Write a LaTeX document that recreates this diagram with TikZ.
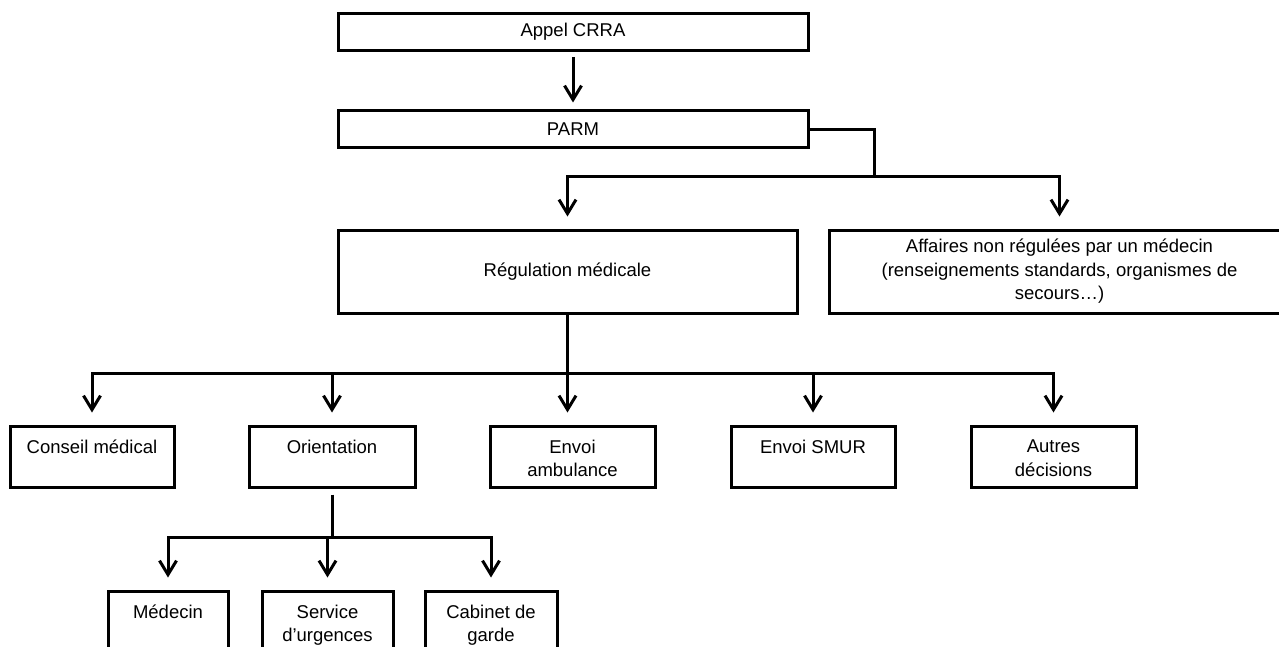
\documentclass[tikz,border=0pt]{standalone}
\usepackage{fontspec}
\setmainfont{Liberation Sans}
\usetikzlibrary{arrows.meta}

\tikzset{
  box/.style={draw, line width=3pt, rectangle, inner sep=0pt, align=center},
  flow/.style={line width=3pt},
  arr/.style={flow, -{Straight Barb[length=14pt,width=17pt]}, shorten >=12pt}
}
% texte colle en haut de la boite
\newcommand{\hautbox}[3]{\parbox[c][#2pt][t]{#1pt}{\centering\vspace{14pt}#3}}

\begin{document}
\begin{tikzpicture}[x=1pt,y=-1pt,font=\fontsize{18.5}{23.5}\selectfont]
	\useasboundingbox (0,0) rectangle (1279,647);
	% niveau haut
	\node[box, minimum width=470, minimum height=37] (appel) at (573,32) {Appel CRRA};
	\node[box, minimum width=470, minimum height=37] (parm) at (573,129.5) {PARM};
	\node[box, minimum width=459, minimum height=83] (regul) at (567.5,271.5) {R\'egulation m\'edicale};
	\node[box, minimum width=461, minimum height=83] (affaires) at (1059.5,271.5)
		{Affaires non r\'egul\'ees par un m\'edecin\\(renseignements standards, organismes de\\secours…)};
	% decisions
	\node[box] (conseil) at (92,456.5) {\hautbox{164}{61}{Conseil m\'edical}};
	\node[box] (orient) at (332,456.5) {\hautbox{166}{61}{Orientation}};
	\node[box] (ambul) at (572.5,456.5) {\hautbox{165}{61}{Envoi\\ambulance}};
	\node[box] (smur) at (813,456.5) {\hautbox{164}{61}{Envoi SMUR}};
	\node[box] (autres) at (1053.5,456.5) {\hautbox{165}{61}{Autres\\d\'ecisions}};
	% orientation
	\node[box] (medecin) at (168,626) {\hautbox{120}{70}{M\'edecin}};
	\node[box] (service) at (327.5,626) {\hautbox{131}{70}{Service\\d’urgences}};
	\node[box] (cabinet) at (491,626) {\hautbox{132}{70}{Cabinet de\\garde}};
	% connecteurs
	\coordinate (j1) at (874,177);
	\coordinate (j2) at (567.5,373);
	\coordinate (j3) at (327.5,537);
	\draw[arr, shorten <=5pt, shorten >=7pt] (appel.south) -- (parm.north);
	\draw[flow] (parm.east) -| (j1);
	\draw[arr] (j1) -| (regul.north);
	\draw[arr] (j1) -| (affaires.north);
	\draw[arr] (regul.south) -- (regul.south |- ambul.north);
	\foreach \n in {conseil,orient,smur,autres}
		\draw[arr] (j2) -| (\n.north);
	\draw[flow, shorten <=6pt] (orient.south) -- (orient.south |- j3);
	\foreach \n in {medecin,service,cabinet}
		\draw[arr] (orient.south |- j3) -| (\n.north);
\end{tikzpicture}
\end{document}
